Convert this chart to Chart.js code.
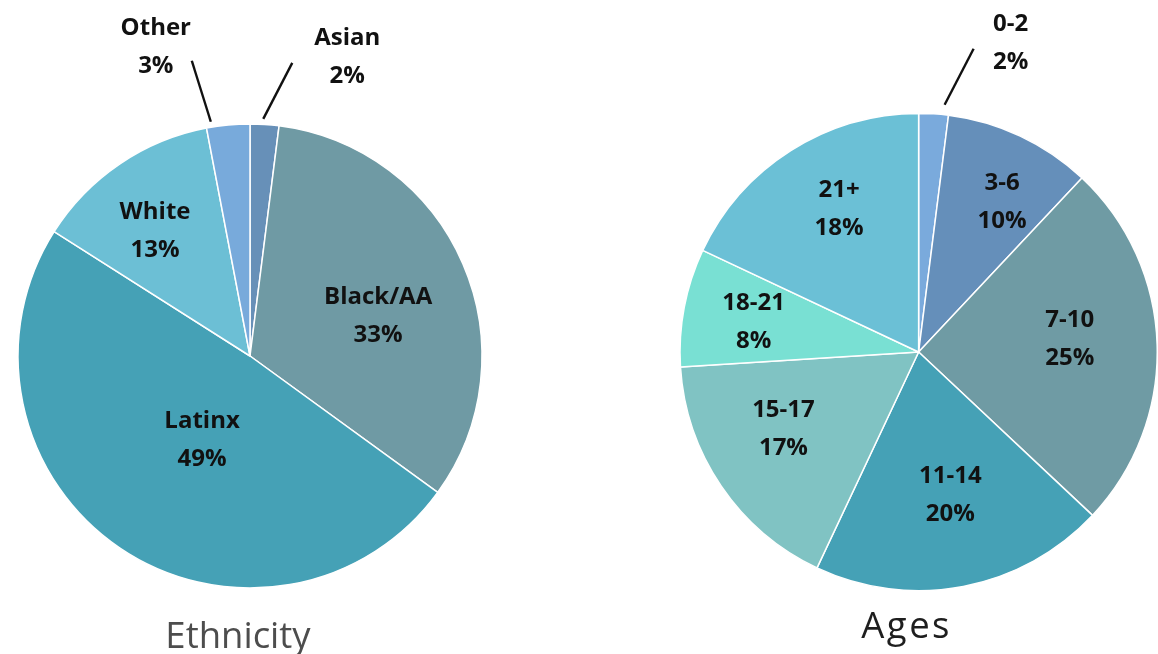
<!DOCTYPE html>
<html>
<head>
<meta charset="utf-8">
<script src="https://cdn.jsdelivr.net/npm/chart.js@4"></script>
<style>
  html, body { margin: 0; padding: 0; background: #ffffff; }
  body { width: 1158px; height: 654px; position: relative; overflow: hidden; }
  .pane { position: absolute; top: 0; }
  canvas { display: block; }
</style>
</head>
<body>
<div class="pane" id="paneA" style="left:0px;"><canvas id="ethnicity" width="560" height="654"></canvas></div>
<div class="pane" id="paneB" style="left:580px;"><canvas id="ages" width="578" height="654"></canvas></div>
<script>
// ---- data ----
const ethnicityLabels = ['Asian', 'Black/AA', 'Latinx', 'White', 'Other'];
const ethnicityValues = [2, 33, 49, 13, 3];
const ethnicityColors = ['#6790b8', '#6f9aa4', '#45a1b6', '#6cbfd5', '#78aadb'];

const ageLabels = ['0-2', '3-6', '7-10', '11-14', '15-17', '18-21', '21+'];
const ageValues = [2, 10, 25, 20, 17, 8, 18];
const ageColors = ['#7aaadc', '#658fba', '#6f9ba4', '#45a1b6', '#80c3c3', '#79e0d3', '#6bc0d6'];

// ---- label placement (per slice: radius fraction, angle nudge in degrees, or an outside callout) ----
const ethnicityLabelLayout = [
  { outside: true, gap: 5.5, nudge: -0.4, line: [29, -56], text: [55, -26] },
  { frac: 0.58, nudge: 5.6 },
  { frac: 0.413, nudge: -4.2 },
  { frac: 0.68, nudge: -2.8 },
  { outside: true, gap: 5.5, nudge: -4.1, line: [-19, -61], text: [-36, -34] }
];
const ageLabelLayout = [
  { outside: true, gap: 10, nudge: 2.4, line: [29, -56], text: [37, -26] },
  { frac: 0.724, nudge: 3.7 },
  { frac: 0.636, nudge: -3.5 },
  { frac: 0.61, nudge: -1.8 },
  { frac: 0.649, nudge: 5 },
  { frac: 0.704, nudge: 0 },
  { frac: 0.69, nudge: 3.5 }
];

const LABEL_FONT = '700 24px "Open Sans", Lato, sans-serif';
const LINE_GAP = 38;
const TEXT_SHIFT = 1.5;
const BORDER = 1.5;

// Draws the category name and percentage for each slice, plus the chart title.
const sliceLabels = {
  id: 'sliceLabels',
  afterDatasetsDraw(chart, args, opts) {
    const ctx = chart.ctx;
    const meta = chart.getDatasetMeta(0);
    const labels = chart.data.labels;
    const values = chart.data.datasets[0].data;
    ctx.save();
    ctx.font = LABEL_FONT;
    ctx.fillStyle = '#111111';
    ctx.textAlign = 'center';
    ctx.textBaseline = 'middle';
    meta.data.forEach((arc, i) => {
      const lay = opts.layout[i];
      const p = arc.getProps(['x', 'y', 'startAngle', 'endAngle', 'outerRadius'], true);
      const mid = (p.startAngle + p.endAngle) / 2 + lay.nudge * Math.PI / 180;
      let tx, ty;
      if (lay.outside) {
        const r0 = p.outerRadius + lay.gap;
        const sx = p.x + Math.cos(mid) * r0;
        const sy = p.y + Math.sin(mid) * r0;
        const ex = sx + lay.line[0];
        const ey = sy + lay.line[1];
        ctx.beginPath();
        ctx.moveTo(sx, sy);
        ctx.lineTo(ex, ey);
        ctx.lineWidth = 2.4;
        ctx.strokeStyle = '#111111';
        ctx.stroke();
        tx = ex + lay.text[0];
        ty = ey + lay.text[1] + TEXT_SHIFT;
        ctx.fillText(labels[i], tx, ty);
        ctx.fillText(values[i] + '%', tx, ty + LINE_GAP);
      } else {
        const rr = p.outerRadius * lay.frac;
        tx = p.x + Math.cos(mid) * rr;
        ty = p.y + Math.sin(mid) * rr + TEXT_SHIFT;
        ctx.fillText(labels[i], tx, ty - LINE_GAP / 2);
        ctx.fillText(values[i] + '%', tx, ty + LINE_GAP / 2);
      }
    });
    // chart title under the pie
    const t = opts.title;
    const a0 = meta.data[0];
    ctx.font = t.font;
    ctx.fillStyle = t.color;
    ctx.textBaseline = 'alphabetic';
    if ('letterSpacing' in ctx) ctx.letterSpacing = t.spacing + 'px';
    ctx.fillText(t.text, a0.x + t.dx, a0.y + t.dy);
    ctx.restore();
  }
};

function makePie(canvasId, labels, values, colors, layout, center, radius, title) {
  const cv = document.getElementById(canvasId);
  const W = cv.width, H = cv.height;
  const side = 2 * radius + BORDER;
  const left = center[0] - side / 2;
  const top = center[1] - side / 2;
  return new Chart(cv, {
    type: 'pie',
    data: {
      labels: labels,
      datasets: [{
        data: values,
        backgroundColor: colors,
        borderColor: '#ffffff',
        borderWidth: BORDER
      }]
    },
    options: {
      responsive: false,
      animation: false,
      devicePixelRatio: 1,
      layout: { padding: { left: left, top: top, right: W - left - side, bottom: H - top - side } },
      plugins: {
        legend: { display: false },
        tooltip: { enabled: false },
        sliceLabels: { layout: layout, title: title }
      }
    },
    plugins: [sliceLabels]
  });
}

makePie('ethnicity', ethnicityLabels, ethnicityValues, ethnicityColors, ethnicityLabelLayout,
  [250, 356], 232,
  { text: 'Ethnicity', font: '400 36.5px "Open Sans", Lato, sans-serif', color: '#4d4d4d', dx: -12, dy: 292, spacing: 0 });

makePie('ages', ageLabels, ageValues, ageColors, ageLabelLayout,
  [339, 352], 239,
  { text: 'Ages', font: '400 36.5px "Open Sans", Lato, sans-serif', color: '#1e1e1e', dx: -12, dy: 286, spacing: 2.5 });
</script>
</body>
</html>
